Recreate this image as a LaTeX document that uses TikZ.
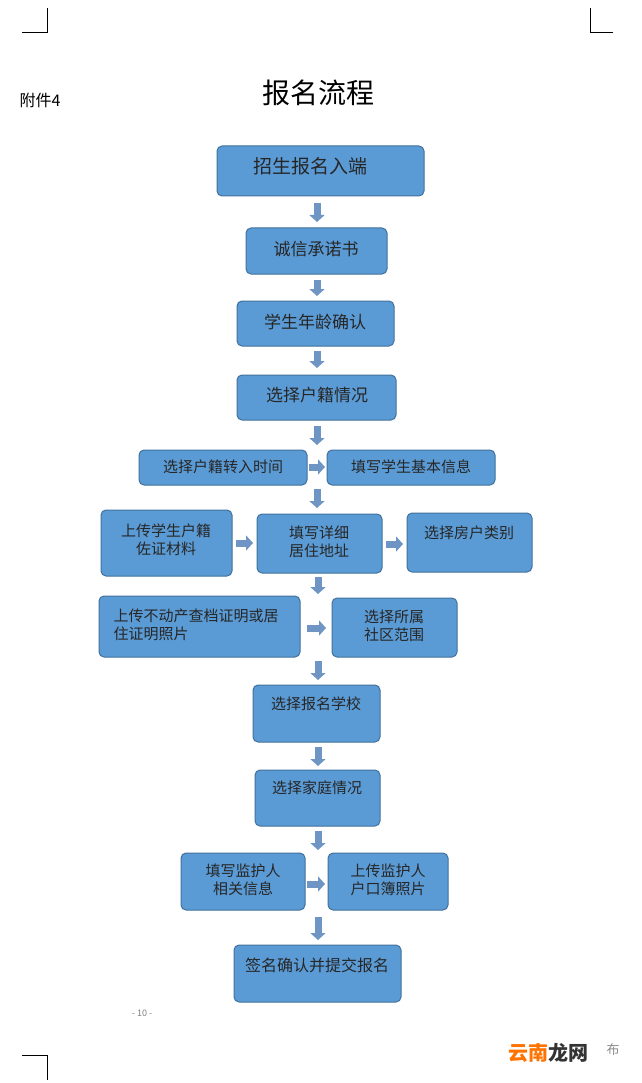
\documentclass[tikz,border=0pt]{standalone}
\usepackage{fontspec}
\setmainfont{Noto Sans CJK SC}
\usetikzlibrary{arrows.meta}
\definecolor{boxf}{HTML}{5B9BD5}
\definecolor{boxd}{HTML}{41719C}
\definecolor{arr}{HTML}{6E95C4}
\begin{document}
\begin{tikzpicture}[x=1pt,y=-1pt,
 bx/.style={draw=boxd,fill=boxf,rounded corners=5pt,line width=1pt},
 t/.style={font=\fontsize{15}{18}\selectfont,text=black!85,align=center},
 ar/.style={draw=arr,line width=7pt,-{Triangle[width=15pt,length=7pt]}},
 cropm/.style={line width=0.8pt,black}]
\useasboundingbox (0,0) rectangle (641,1083);
\fill[white] (0,0) rectangle (641,1083);
% crop marks
\draw[cropm] (22,32) -- (47,32) -- (47,8);
\draw[cropm] (613,32) -- (590,32) -- (590,8);
\draw[cropm] (22,1055) -- (47,1055) -- (47,1080);
\node[anchor=west,font=\fontsize{16}{19}\selectfont] (fj) at (16,100) {附件4};
\node[font=\fontsize{28}{33}\selectfont] (title) at (318,93) {报名流程};
\node[font=\fontsize{9}{11}\selectfont,text=black!50] (pg) at (142,1013) {- 10 -};
% boxes
\newcommand\bxx[5]{\draw[bx] (#1,#2) rectangle (#3,#4); \coordinate (#5) at ({(#1+#3)/2},{(#2+#4)/2});}
\bxx{217}{146}{424}{196}{b1}
\bxx{246}{228}{387}{274}{b2}
\bxx{237}{301}{394}{346}{b3}
\bxx{237}{375}{396}{420}{b4}
\bxx{139}{450}{307}{485}{b5}
\bxx{327}{450}{495}{485}{b6}
\bxx{101}{510}{232}{576}{b7}
\bxx{257}{514}{382}{573}{b8}
\bxx{407}{513}{532}{572}{b9}
\bxx{99}{596}{300}{657}{b10}
\bxx{332}{598}{457}{657}{b11}
\bxx{253}{685}{380}{742}{b12}
\bxx{255}{770}{380}{826}{b13}
\bxx{181}{853}{305}{910}{b14}
\bxx{328}{853}{448}{910}{b15}
\bxx{234}{945}{401}{1002}{b16}
\node[t,font=\fontsize{19}{22}\selectfont] (t1) at (310,166) {招生报名入端};
\node[t,font=\fontsize{17}{20}\selectfont] (t2) at (316,249) {诚信承诺书};
\node[t,font=\fontsize{17}{20}\selectfont] (t3) at (315,322) {学生年龄确认};
\node[t,font=\fontsize{17}{20}\selectfont] (t4) at (317,395) {选择户籍情况};
\node[t] (t5) at (223,467) {选择户籍转入时间};
\node[t] (t6) at (411,467) {填写学生基本信息};
\node[t] (t7) at (166,540) {上传学生户籍\\佐证材料};
\node[t] (t8) at (319,542) {填写详细\\居住地址};
\node[t] (t9) at (469,533) {选择房户类别};
\node[t,align=left,anchor=west] (t10) at (110,625) {上传不动产查档证明或居\\住证明照片};
\node[t] (t11) at (394,626) {选择所属\\社区范围};
\node[t] (t12) at (316,704) {选择报名学校};
\node[t] (t13) at (317,788) {选择家庭情况};
\node[t] (t14) at (243,880) {填写监护人\\相关信息};
\node[t] (t15) at (388,880) {上传监护人\\户口簿照片};
\node[t,font=\fontsize{16}{19}\selectfont] (t16) at (317,965) {签名确认并提交报名};
\draw[ar] (317,203) -- (317,222);
\draw[ar] (317,280) -- (317,296);
\draw[ar] (317,351) -- (317,368);
\draw[ar] (317,426) -- (317,445);
\draw[ar] (309,467) -- (325,467);
\draw[ar] (317,489) -- (317,508);
\draw[ar] (236,543) -- (253,543);
\draw[ar] (386,544) -- (403,544);
\draw[ar] (318,577) -- (318,594);
\draw[ar] (307,628) -- (326,628);
\draw[ar] (318,661) -- (318,680);
\draw[ar] (318,747) -- (318,766);
\draw[ar] (318,831) -- (318,850);
\draw[ar] (307,884) -- (325,884);
\draw[ar] (318,917) -- (318,940);
% watermark
\node[font=\bfseries\fontsize{20}{24}\selectfont,text=orange!90!red,anchor=west] (wm1) at (505,1053) {云南};
\node[font=\bfseries\fontsize{20}{24}\selectfont,text=black!80,anchor=west] (wm2) at (545,1053) {龙网};
\node[font=\fontsize{13}{15}\selectfont,text=black!45,anchor=west] (wm3) at (603,1050) {布};
\end{tikzpicture}
\end{document}
